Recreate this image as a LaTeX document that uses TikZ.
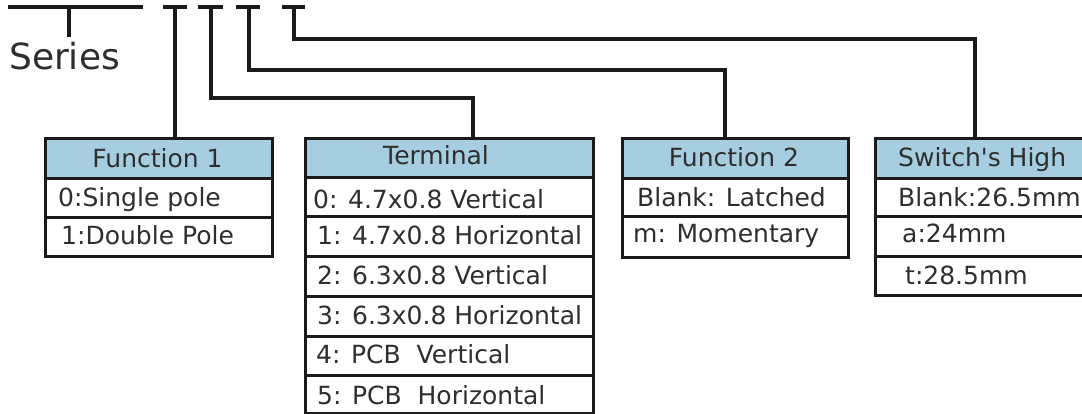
\documentclass[tikz,border=0pt]{standalone}
\usepackage{fontspec}
\setmainfont{DejaVu Sans}
\usetikzlibrary{calc}
\definecolor{hdr}{HTML}{A6CEE0}
\definecolor{ln}{HTML}{1A1A1A}
\definecolor{tx}{HTML}{2E2E2E}
\tikzset{
  cell/.style={draw=ln, line width=2.9pt, fill=white, inner sep=0pt, anchor=north west},
  hcell/.style={cell, fill=hdr},
  txt/.style={text=tx, inner sep=0pt, anchor=base west, font=\fontsize{25}{30}\selectfont},
  ctxt/.style={txt, anchor=base},
  conn/.style={draw=ln, line width=3.2pt},
}
\begin{document}
\begin{tikzpicture}[x=1pt,y=-1pt]
\useasboundingbox (0,0) rectangle (1082,414);
\clip (0,0) rectangle (1082,414);
\fill[white] (0,0) rectangle (1082,414);

% ---- Series ----
\coordinate (sl) at (8,7);
\coordinate (sr) at (143,7);
\coordinate (st) at (69,7);
\coordinate (sb) at (69,37);
\draw[conn] (sl) -- (sr);
\draw[conn] (st) -- (sb);
\node[txt, font=\fontsize{36}{40}\selectfont] (series) at (9,70) {Series};

% ---- Function 1 ----
\node[hcell, minimum width=227, minimum height=40] (f1h) at (44,137) {};
\node[cell, minimum width=227, minimum height=39] (f1a) at (44,177) {};
\node[cell, minimum width=227, minimum height=39] (f1b) at (44,216) {};
\node[ctxt] (f1ht) at (157.5,168) {Function 1};
\node[txt] (f1at) at (58,207) {0:Single pole};
\node[txt] (f1bt) at (61,244) {1:Double Pole};

% ---- Terminal ----
\node[hcell, minimum width=288, minimum height=39] (tmh) at (304,137) {};
\node[cell, minimum width=288, minimum height=39] (tma) at (304,176) {};
\node[cell, minimum width=288, minimum height=40] (tmb) at (304,215) {};
\node[cell, minimum width=288, minimum height=40] (tmc) at (304,255) {};
\node[cell, minimum width=288, minimum height=40] (tmd) at (304,295) {};
\node[cell, minimum width=288, minimum height=39] (tme) at (304,335) {};
\node[cell, minimum width=288, minimum height=38] (tmf) at (304,374) {};
\node[txt] (tmht) at (383,165) {Terminal};
\node[txt] (tmat) at (313,209) {0: 4.7x0.8 Vertical};
\node[txt] (tmbt) at (317,244) {1: 4.7x0.8 Horizontal};
\node[txt] (tmct) at (317,284) {2: 6.3x0.8 Vertical};
\node[txt] (tmdt) at (317,324) {3: 6.3x0.8 Horizontal};
\node[txt] (tmet) at (316,363) {4: PCB\ \ Vertical};
\node[txt] (tmft) at (317,404) {5: PCB\ \ Horizontal};

% ---- Function 2 ----
\node[hcell, minimum width=226, minimum height=40] (f2h) at (621,137) {};
\node[cell, minimum width=226, minimum height=38] (f2a) at (621,177) {};
\node[cell, minimum width=226, minimum height=41] (f2b) at (621,215) {};
\node[ctxt] (f2ht) at (734,167) {Function 2};
\node[txt] (f2at) at (637,207) {Blank: Latched};
\node[txt] (f2bt) at (633,243) {m: Momentary};

% ---- Switch's High ----
\node[hcell, minimum width=220, minimum height=40] (shh) at (874,137) {};
\node[cell, minimum width=220, minimum height=38] (sha) at (874,177) {};
\node[cell, minimum width=220, minimum height=40] (shb) at (874,215) {};
\node[cell, minimum width=220, minimum height=39] (shc) at (874,255) {};
\node[txt] (shht) at (898,167) {Switch\textquotesingle s High};
\node[txt] (shat) at (898,207) {Blank:26.5mm};
\node[txt] (shbt) at (902,243) {a:24mm};
\node[txt] (shct) at (905,284) {t:28.5mm};

% ---- T marks and connectors ----
\coordinate (t1) at (175,7);
\coordinate (t2) at (211,7);
\coordinate (t3) at (249,7);
\coordinate (t4) at (294,7);
\draw[conn] ([xshift=-12]t1) -- ([xshift=12]t1);
\draw[conn] ([xshift=-13]t2) -- ([xshift=12]t2);
\draw[conn] ([xshift=-13]t3) -- ([xshift=11]t3);
\draw[conn] ([xshift=-12]t4) -- ([xshift=11]t4);

\coordinate (b2) at (473,98);
\coordinate (b3) at (725,70);
\coordinate (b4) at (975,39);

\draw[conn] (t1) -- (t1 |- f1h.north);
\draw[conn] (t2) |- (b2) -- (b2 |- tmh.north);
\draw[conn] (t3) |- (b3) -- (b3 |- f2h.north);
\draw[conn] (t4) |- (b4) -- (b4 |- shh.north);
\end{tikzpicture}
\end{document}
